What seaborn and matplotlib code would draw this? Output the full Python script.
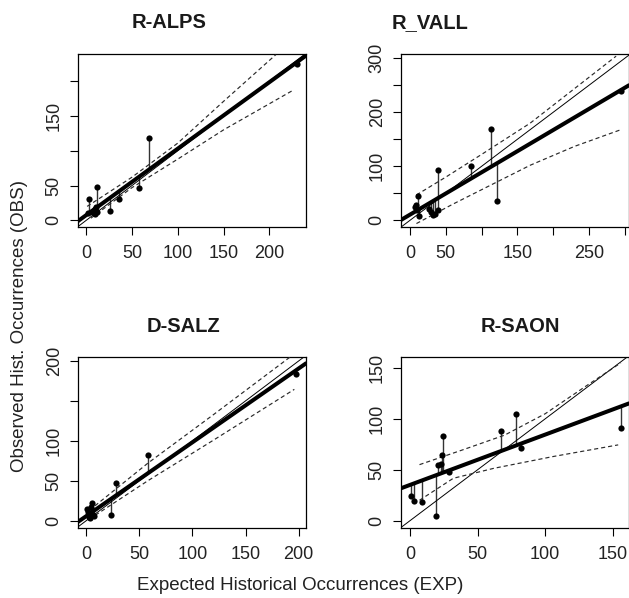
import numpy as np
import pandas as pd
import matplotlib
matplotlib.use("Agg")
import matplotlib.pyplot as plt
import seaborn as sns

# --- data ---
panel_names = ["R-ALPS", "R_VALL", "D-SALZ", "R-SAON"]

alps_exp = [2.5, 12, 2, 9.5, 10, 8, 11, 12, 6, 25.5, 36, 58, 69, 230]
alps_obs = [30, 48, 10.5, 16, 8.6, 13, 19, 12, 12, 13.4, 30, 46, 118, 225]
vall_exp = [8.4, 10.8, 12.6, 7, 10.3, 27, 29, 32.8, 35, 38.9, 39.8, 85.7, 112.8, 122.2, 295]
vall_obs = [28.3, 45, 8, 25, 19, 20.4, 16, 9.8, 12, 19, 93, 101, 170, 35.7, 240]
salz_exp = [0.4, 5.4, 2.5, 7.3, 4.1, 3.5, 1.6, 6.3, 23.6, 28.3, 58, 197.5]
salz_obs = [14.3, 22.6, 5, 6.3, 17.5, 3.5, 11.3, 7, 6.8, 46.8, 82, 184]
saon_exp = [0.7, 3.2, 9.1, 19.3, 20.6, 22.8, 23.3, 24.1, 28.6, 67.1, 78.6, 81.8, 156.1]
saon_obs = [24.3, 19.4, 18.4, 4.3, 54.7, 55.4, 64.2, 83.2, 47.8, 87.8, 104.5, 71.7, 90.8]

# fitted line (intercept, slope) per panel
fit_intercept = [7.5, 10.5, 5.7, 35.1]
fit_slope = [0.955, 0.783, 0.9245, 0.494]

# dashed bands
alps_up_x, alps_up_y = [1, 50, 100, 150, 207], [20, 62, 111, 171, 238]
alps_lo_x, alps_lo_y = [5, 50, 100, 150, 226], [3, 47, 88, 130, 187]
vall_up_x, vall_up_y = [9, 50, 100, 168, 288], [47, 80, 122, 180, 304]
vall_lo_x, vall_lo_y = [9, 60, 168, 230, 295], [-6, 30, 102, 137, 168]
salz_up_x, salz_up_y = [3, 58, 120, 192], [13, 72, 133, 205]
salz_lo_x, salz_lo_y = [3, 58, 120, 196], [2, 50, 101, 164.5]
saon_up_x, saon_up_y = [7, 40, 70, 100, 130, 156], [55, 70, 84, 105, 132, 155]
saon_lo_x, saon_lo_y = [7, 32, 62, 106, 154], [20, 41.6, 51.4, 63, 74.4]

# ticks and their labels
alps_xticks, alps_xlabels = [0, 50, 100, 150, 200], ["0", "50", "100", "150", "200"]
alps_yticks, alps_ylabels = [0, 50, 100, 150, 200], ["0", "50", "", "150", ""]
vall_xticks, vall_xlabels = [0, 50, 100, 150, 200, 250, 300], ["0", "50", "", "150", "", "250", ""]
vall_yticks, vall_ylabels = [0, 50, 100, 150, 200, 250, 300], ["0", "", "100", "", "200", "", "300"]
salz_xticks, salz_xlabels = [0, 50, 100, 150, 200], ["0", "50", "100", "150", "200"]
salz_yticks, salz_ylabels = [0, 50, 100, 150, 200], ["0", "50", "100", "", "200"]
saon_xticks, saon_xlabels = [0, 50, 100, 150], ["0", "50", "100", "150"]
saon_yticks, saon_ylabels = [0, 50, 100, 150], ["0", "50", "100", "150"]

panels = [
    dict(exp=alps_exp, obs=alps_obs, up=(alps_up_x, alps_up_y), lo=(alps_lo_x, alps_lo_y),
         xt=(alps_xticks, alps_xlabels), yt=(alps_yticks, alps_ylabels)),
    dict(exp=vall_exp, obs=vall_obs, up=(vall_up_x, vall_up_y), lo=(vall_lo_x, vall_lo_y),
         xt=(vall_xticks, vall_xlabels), yt=(vall_yticks, vall_ylabels)),
    dict(exp=salz_exp, obs=salz_obs, up=(salz_up_x, salz_up_y), lo=(salz_lo_x, salz_lo_y),
         xt=(salz_xticks, salz_xlabels), yt=(salz_yticks, salz_ylabels)),
    dict(exp=saon_exp, obs=saon_obs, up=(saon_up_x, saon_up_y), lo=(saon_lo_x, saon_lo_y),
         xt=(saon_xticks, saon_xlabels), yt=(saon_yticks, saon_ylabels)),
]

# layout (figure fractions) and limits
positions = [
    [0.124, 0.6204, 0.3625, 0.2893],
    [0.6375, 0.6204, 0.3625, 0.2893],
    [0.124, 0.1176, 0.3625, 0.2859],
    [0.6375, 0.1176, 0.3625, 0.2859],
]
xlims = [(-9, 240), (-12.6, 306), (-7.8, 207), (-6.7, 162)]
ylims = [(-9.6, 239), (-12.4, 308), (-8.8, 205.4), (-6.9, 161)]
title_pos = [(168.7, 23), (429.8, 23), (183.3, 326), (520, 326.7)]

sns.set_style("ticks")
plt.rcParams["font.family"] = ["Liberation Sans", "DejaVu Sans"]

W, H = 629, 598
fig = plt.figure(figsize=(W / 100, H / 100), dpi=100)

for i, p in enumerate(panels):
    ax = fig.add_axes(positions[i])
    df = pd.DataFrame({"exp": p["exp"], "obs": p["obs"]})
    a, b = fit_intercept[i], fit_slope[i]

    # residual segments from each point to the fitted line
    ax.vlines(df["exp"], df["obs"], a + b * df["exp"], colors="#333333", linewidth=1.0, zorder=2)

    # 1:1 line and fitted line
    ax.axline((0, 0), slope=1, color="black", linewidth=0.7, zorder=3)
    ax.axline((0, a), slope=b, color="black", linewidth=2.9, zorder=4)

    # dashed bands
    for bx, by in (p["up"], p["lo"]):
        band = pd.DataFrame({"x": bx, "y": by})
        sns.lineplot(data=band, x="x", y="y", ax=ax, color="#2a2a2a", linewidth=0.85,
                     linestyle=(0, (3.5, 2.5)), sort=True, estimator=None, zorder=3)

    sns.scatterplot(data=df, x="exp", y="obs", ax=ax, color="black", s=20,
                    edgecolor="black", linewidth=0, zorder=5)

    ax.set_xlim(*xlims[i])
    ax.set_ylim(*ylims[i])
    ax.set_xticks(p["xt"][0])
    ax.set_xticklabels(p["xt"][1])
    ax.set_yticks(p["yt"][0])
    ax.set_yticklabels(p["yt"][1], rotation=90, va="center")
    ax.tick_params(axis="both", direction="out", length=6, width=0.8, color="black",
                   labelsize=13, labelcolor="#222222")
    ax.tick_params(axis="x", pad=7)
    ax.tick_params(axis="y", pad=5)
    ax.set_xlabel("")
    ax.set_ylabel("")
    for s in ax.spines.values():
        s.set_visible(True)
        s.set_color("black")
        s.set_linewidth(0.9)

    tx, ty = title_pos[i]
    fig.text(tx / W, 1 - ty / H, panel_names[i], ha="center", va="center",
             fontsize=14.5, fontweight="bold", color="#1a1a1a")

fig.text(300.5 / W, 1 - 585 / H, "Expected Historical Occurrences (EXP)",
         ha="center", va="center", fontsize=13.5, color="#222222")
fig.text(20 / W, 1 - 326 / H, "Observed Hist. Occurrences (OBS)", rotation=90,
         ha="center", va="center", fontsize=13.5, color="#222222")

fig.savefig("out.png", dpi=100)
